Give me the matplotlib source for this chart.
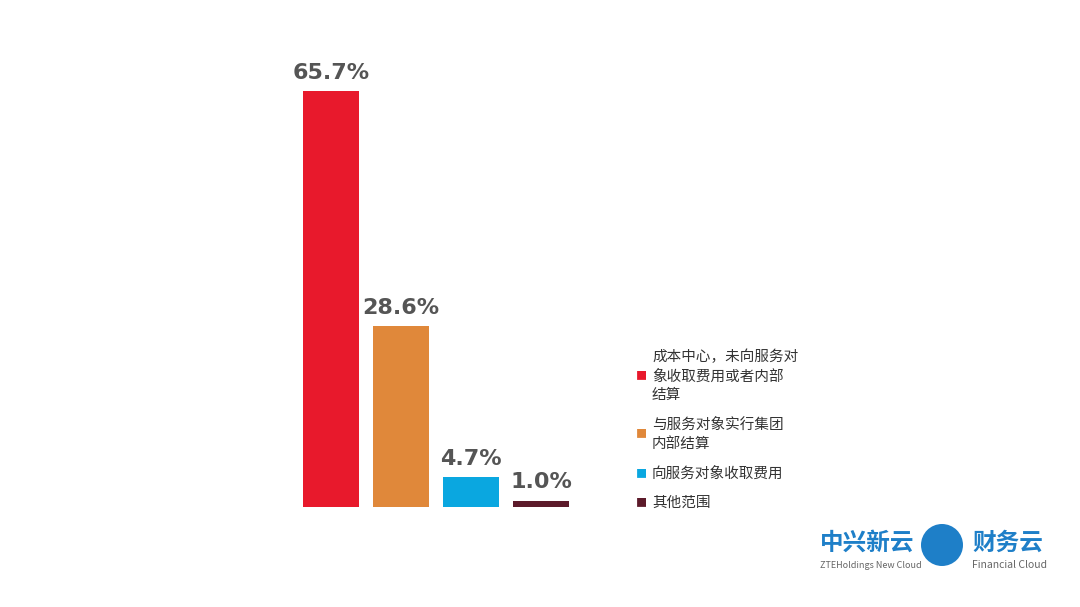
import matplotlib.pyplot as plt
from matplotlib.patches import Ellipse

plt.rcParams['font.family'] = ['Noto Sans CJK SC', 'DejaVu Sans']

categories = ["成本中心，未向服务对\n象收取费用或者内部\n结算", "与服务对象实行集团\n内部结算", "向服务对象收取费用", "其他范围"]
values = [65.7, 28.6, 4.7, 1.0]
labels = ["65.7%", "28.6%", "4.7%", "1.0%"]
colors = ["#E8192C", "#E0883A", "#0AA7E0", "#5C1A2A"]

fig = plt.figure(figsize=(10.8, 6.07), dpi=100)
ax = fig.add_axes([296/1080, 100/607, 280/1080, 443/607])
x = range(len(values))
ax.bar(x, values, width=0.79, color=colors)
for i, (v, t) in enumerate(zip(values, labels)):
    ax.text(i, v + 1.3, t, ha="center", va="bottom", fontsize=16, fontweight="bold", color="#555555",
            family="DejaVu Sans")
ax.set_xlim(-0.5, 3.5)
ax.set_ylim(0, 70)
ax.axis("off")

# legend: marker sits at the vertical middle of each text block
ys = [376, 434, 474, 503]
for y, c, t in zip(ys, colors, categories):
    fig.text(636/1080, 1 - y/607, "■", color=c, fontsize=8, va="center", ha="left")
    fig.text(652/1080, 1 - y/607, t, color="#333333", fontsize=10.5, va="center", ha="left",
             linespacing=1.45)

# logo
fig.text(820/1080, 1 - 543/607, "中兴新云", color="#1E7FC8", fontsize=17, fontweight="bold", va="center")
fig.text(820/1080, 1 - 565/607, "ZTEHoldings New Cloud", color="#666666", fontsize=6.5, va="center")
fig.patches.append(Ellipse((942/1080, 1 - 545/607), 42/1080, 42/607, transform=fig.transFigure,
                           facecolor="#1E7FC8", edgecolor="none"))
fig.text(972/1080, 1 - 543/607, "财务云", color="#1E7FC8", fontsize=17, fontweight="bold", va="center")
fig.text(972/1080, 1 - 565/607, "Financial Cloud", color="#666666", fontsize=7.5, va="center")

fig.savefig("out.png", dpi=100, facecolor="white")
